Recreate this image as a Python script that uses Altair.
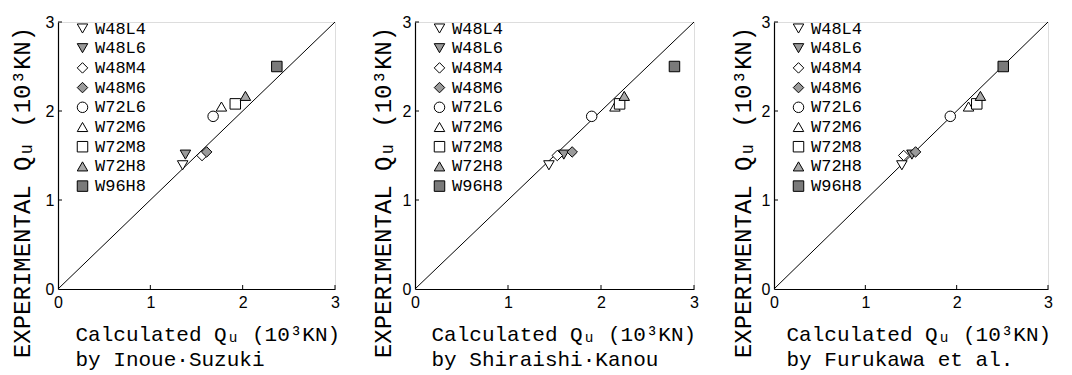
import altair as alt
import pandas as pd

series = ["W48L4", "W48L6", "W48M4", "W48M6", "W72L6", "W72M6", "W72M8", "W72H8", "W96H8"]
shapes = ["triangle-down", "triangle-down", "diamond", "diamond", "circle",
          "triangle-up", "square", "triangle-up", "square"]
fills = ["white", "#9a9a9a", "white", "#9a9a9a", "white", "white", "white", "#a8a8a8", "#7a7a7a"]
strokes = ["black"] * len(series)

experimental = [1.39, 1.51, 1.50, 1.54, 1.94, 2.05, 2.08, 2.17, 2.50]
calc_inoue = [1.35, 1.38, 1.56, 1.61, 1.68, 1.77, 1.92, 2.03, 2.37]
calc_shiraishi = [1.44, 1.60, 1.53, 1.69, 1.90, 2.15, 2.20, 2.25, 2.79]
calc_furukawa = [1.40, 1.51, 1.42, 1.55, 1.93, 2.13, 2.22, 2.26, 2.51]

subtitles = ["by Inoue\u00b7Suzuki", "by Shiraishi\u00b7Kanou", "by Furukawa et al."]
tick_values = [0, 1, 2, 3]
inner_ticks = [1, 2, 3]
diag = [0, 3]

MONO = "Liberation Mono"
SANS = "Liberation Sans"

widths = [277, 279, 274]
H = 267
ytitle_x = [-36, -32, -31]
xtitle_x = [17, 16, 12]


def panel(calc, subtitle, W, ytx, xtx):
    df = pd.DataFrame({"series": series, "calc": calc, "exp": experimental})
    xs = alt.Scale(domain=[0, 3], nice=False, zero=True)
    ys = alt.Scale(domain=[0, 3], nice=False, zero=True)
    xaxis = alt.Axis(values=tick_values, format="d", labelFlush=False, grid=False, ticks=False,
                     labelPadding=5, labelFont=SANS, labelFontSize=16, labelColor="black",
                     domainColor="black", domainWidth=1.2,
                     title=["Calculated  Q\u1d64 (10\u00b3KN)", subtitle],
                     titleFont=MONO, titleFontSize=21, titleFontWeight="normal", titleColor="black",
                     titleX=xtx, titleY=51, titleAlign="left", titleBaseline="alphabetic",
                     titleLineHeight=25, titleAnchor="start")
    yaxis = alt.Axis(values=tick_values, format="d", labelFlush=False, grid=False, ticks=False,
                     labelPadding=4, labelFont=SANS, labelFontSize=16, labelColor="black",
                     domainColor="black", domainWidth=1.2,
                     title="EXPERIMENTAL  Q\u1d64 (10\u00b3KN)",
                     titleFont=MONO, titleFontSize=24, titleFontWeight="normal", titleColor="black",
                     titleAngle=270, titleX=ytx, titleY=170, titleAlign="center",
                     titleBaseline="middle")

    line = alt.Chart(pd.DataFrame({"a": diag, "b": diag})).mark_line(
        color="black", strokeWidth=1).encode(
        x=alt.X("a:Q", scale=xs, axis=xaxis),
        y=alt.Y("b:Q", scale=ys, axis=yaxis))

    tdf = pd.DataFrame({"t": inner_ticks})
    xt = alt.Chart(tdf).mark_rule(color="black", strokeWidth=1).encode(
        x=alt.X("t:Q", scale=xs), y=alt.value(H), y2=alt.value(H - 4))
    yt = alt.Chart(tdf).mark_rule(color="black", strokeWidth=1).encode(
        y=alt.Y("t:Q", scale=ys), x=alt.value(0), x2=alt.value(4))

    legend = alt.Legend(title=None, orient="none", legendX=16, legendY=-2,
                        labelFont=MONO, labelFontSize=17, labelColor="black",
                        symbolSize=110, symbolStrokeWidth=1,
                        rowPadding=1.7, labelOffset=4, padding=0)
    pts = alt.Chart(df).mark_point(filled=True, strokeWidth=1,
                                   size=110, opacity=1).encode(
        x=alt.X("calc:Q", scale=xs),
        y=alt.Y("exp:Q", scale=ys),
        shape=alt.Shape("series:N", scale=alt.Scale(domain=series, range=shapes), legend=legend),
        fill=alt.Fill("series:N", scale=alt.Scale(domain=series, range=fills), legend=legend),
        stroke=alt.Stroke("series:N", scale=alt.Scale(domain=series, range=strokes), legend=legend),
    )
    return alt.layer(line, xt, yt, pts).properties(width=W, height=H).resolve_scale(
        fill="independent", shape="independent", stroke="independent")


panels = [panel(c, s, w, a, b) for c, s, w, a, b in
          zip([calc_inoue, calc_shiraishi, calc_furukawa], subtitles, widths, ytitle_x, xtitle_x)]

chart = alt.hconcat(*panels, spacing=80, bounds="flush").resolve_scale(
    fill="independent", shape="independent", stroke="independent").resolve_legend(
    fill="independent", shape="independent", stroke="independent").properties(
    padding={"left": 1, "top": 5, "right": 0, "bottom": 0}
).configure_view(stroke=None).configure(background="white")

chart.save("out.html", embed_options={"renderer": "svg", "actions": False})
